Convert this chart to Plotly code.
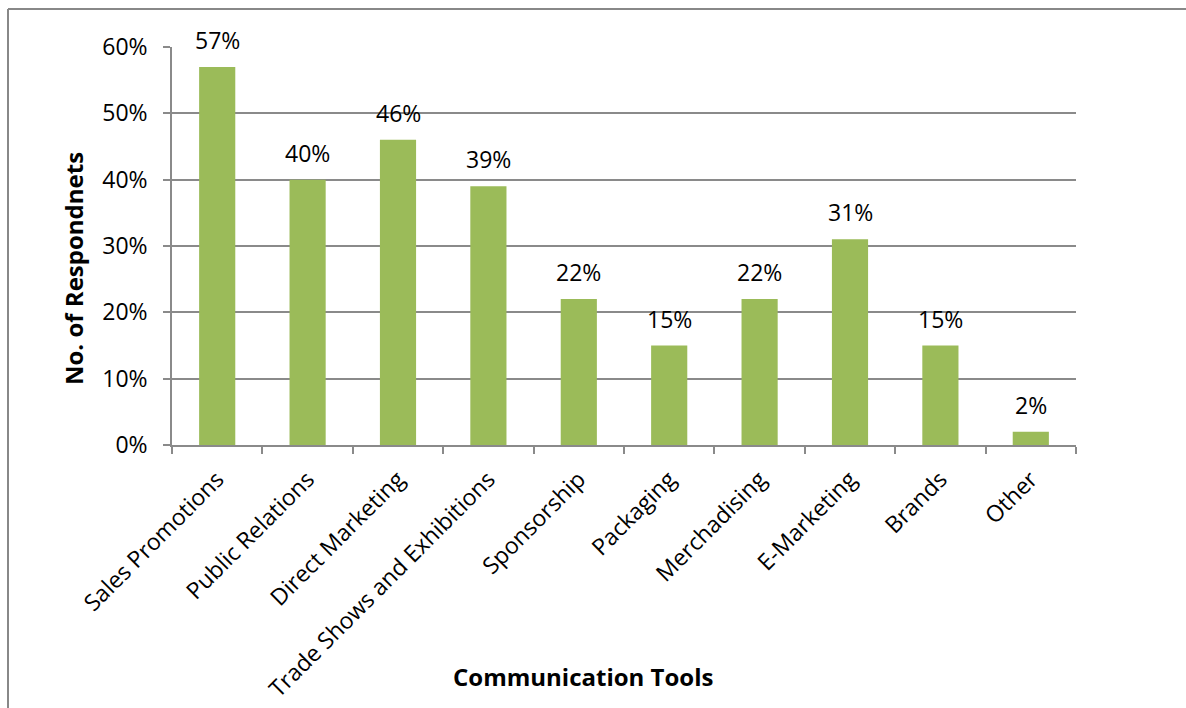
import plotly.graph_objects as go

categories = ["Sales Promotions", "Public Relations", "Direct Marketing",
              "Trade Shows and Exhibitions", "Sponsorship", "Packaging",
              "Merchadising", "E-Marketing", "Brands", "Other"]
values = [57, 40, 46, 39, 22, 15, 22, 31, 15, 2]
y_ticks = [0, 10, 20, 30, 40, 50, 60]
y_tick_labels = [f"{v}%" for v in y_ticks]

W, H = 1186, 708
L, R, T, B = 172, 1076, 47, 445

def px(x):
    return (x - L) / (R - L)

def py(y):
    return (B - y) / (B - T)

FONT = "Open Sans"
GRID = "#8a8a8a"
FS = 23

fig = go.Figure(go.Bar(
    x=categories, y=values,
    marker=dict(color="#9BBB59", line=dict(width=0)),
))

labels = [
    dict(x=c, y=v, xref="x", yref="y", text=f"{v}%", showarrow=False,
         yanchor="middle", xanchor="center", yshift=27,
         font=dict(family=FONT, size=FS, color="black"))
    for c, v in zip(categories, values)
]

fig.update_layout(
    width=W, height=H,
    margin=dict(l=L, r=W - R, t=T, b=H - B, pad=0, autoexpand=False),
    paper_bgcolor="white", plot_bgcolor="white",
    bargap=0.6, showlegend=False,
    font=dict(family=FONT, size=FS, color="black"),
    xaxis=dict(
        type="category", tickangle=-45, tickson="boundaries", automargin=False,
        ticks="outside", ticklen=7, tickcolor=GRID, tickwidth=1.5,
        showline=True, linecolor=GRID, linewidth=1.5, ticklabelstandoff=10,
        showgrid=False, tickfont=dict(family=FONT, size=FS, color="black"),
    ),
    yaxis=dict(
        range=[0, 60], tickvals=y_ticks, ticktext=y_tick_labels, automargin=False,
        ticks="outside", ticklen=7, tickcolor=GRID, tickwidth=1.5,
        showline=True, linecolor=GRID, linewidth=1.5, ticklabelstandoff=11,
        showgrid=True, gridcolor=GRID, gridwidth=1.5, zeroline=False,
        tickfont=dict(family=FONT, size=FS, color="black"),
    ),
    annotations=labels + [
        dict(text="<b>No. of Respondnets</b>", x=px(73), y=py(269),
             xref="paper", yref="paper", textangle=-90, showarrow=False,
             font=dict(family=FONT, size=24, color="black"),
             xanchor="center", yanchor="middle"),
        dict(text="<b>Communication Tools</b>", x=px(583), y=py(676),
             xref="paper", yref="paper", showarrow=False,
             font=dict(family=FONT, size=24, color="black"),
             xanchor="center", yanchor="middle"),
    ],
    shapes=[
        dict(type="line", xref="paper", yref="paper",
             x0=px(8), x1=px(1200), y0=py(9), y1=py(9),
             line=dict(color="#888888", width=2)),
        dict(type="line", xref="paper", yref="paper",
             x0=px(8), x1=px(8), y0=py(9), y1=py(720),
             line=dict(color="#888888", width=2)),
    ],
)

fig.write_html("out.html", config={"displayModeBar": False},
               post_script="document.body.style.margin='0px';document.body.style.overflow='hidden';")
